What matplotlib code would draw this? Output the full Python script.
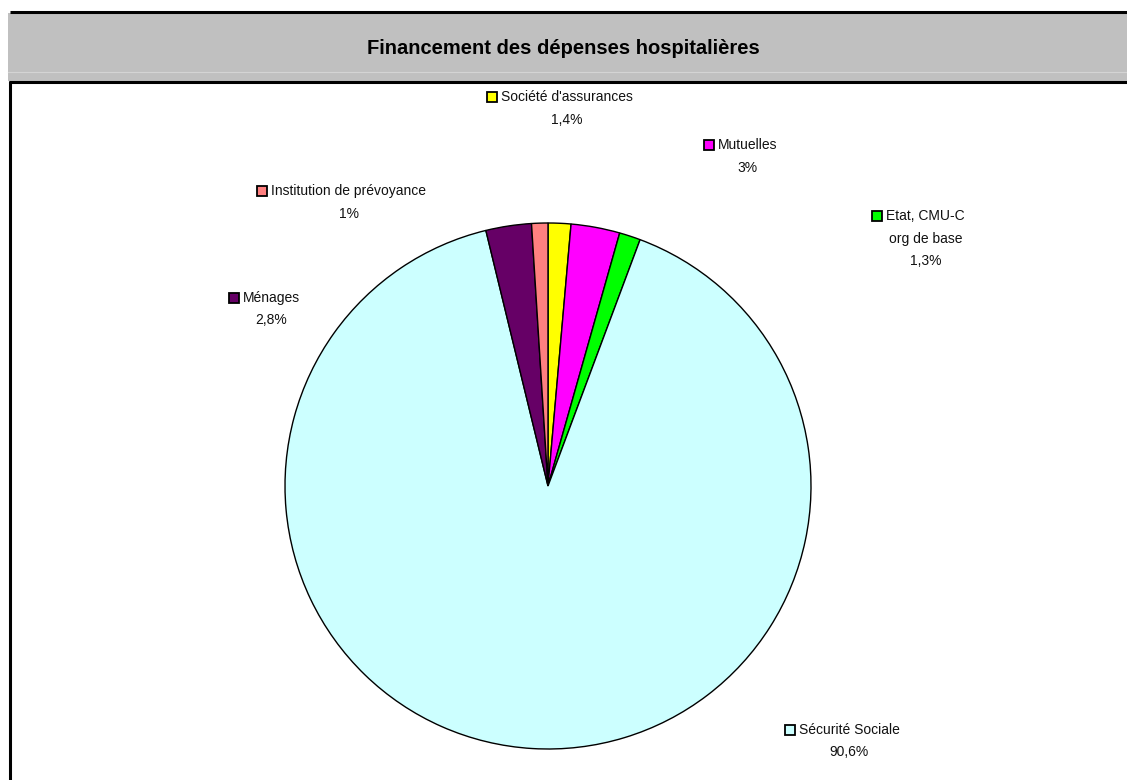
import matplotlib
matplotlib.use("Agg")
import matplotlib.pyplot as plt
from matplotlib.patches import Rectangle

# Slices in drawing order, clockwise from 12 o'clock
labels = ["Société d'assurances", "Mutuelles", "Etat, CMU-C\norg de base",
          "Sécurité Sociale", "Ménages", "Institution de prévoyance"]
shares = [1.4, 3.0, 1.3, 90.6, 2.8, 1.0]
pct_text = ["1,4%", "3%", "1,3%", "90,6%", "2,8%", "1%"]
colors = ["#FFFF00", "#FF00FF", "#00FF00", "#CCFFFF", "#660066", "#FF8080"]

W, H = 1127, 780
plt.rcParams["font.family"] = ["Liberation Sans", "DejaVu Sans"]

fig = plt.figure(figsize=(W / 100, H / 100), dpi=100)
ax = fig.add_axes([0, 0, 1, 1])


def py(y):
    # pixel row (from top) -> data y
    return H - y


# header band and frame
ax.add_patch(Rectangle((8, py(81)), W, 68, facecolor="#C0C0C0", edgecolor="none"))
ax.plot([8, W], [py(72), py(72)], color="#D4D4D4", lw=0.8)
ax.plot([10, W], [py(12), py(12)], color="black", lw=2.2, solid_capstyle="butt")
ax.plot([9, W], [py(81.5), py(81.5)], color="black", lw=2.2, solid_capstyle="butt")
ax.plot([10, 10], [py(81), 0], color="black", lw=2.2, solid_capstyle="butt")
ax.text(563, py(49), "Financement des dépenses hospitalières", ha="center", va="center",
        fontsize=14.5, fontweight="bold")

ax.pie(shares, colors=colors, startangle=90, counterclock=False,
       center=(548, py(486)), radius=263, frame=True,
       wedgeprops=dict(edgecolor="black", linewidth=1.0))
ax.set_xlim(0, W)
ax.set_ylim(0, H)
ax.set_aspect("equal")
ax.axis("off")

# label anchors: (x of key square, y of first line)
label_pos = [(492, 97), (709, 145), (877, 216), (790, 730), (234, 298), (262, 191)]
line_h = 22.5
fs = 10
for lab, pct, col, (x, y) in zip(labels, pct_text, colors, label_pos):
    lines = lab.split("\n")
    ax.add_patch(Rectangle((x - 5, py(y) - 5), 10, 10, facecolor=col,
                           edgecolor="black", lw=1.3))
    t = ax.text(x + 9, py(y), lines[0], ha="left", va="center", fontsize=fs,
                color="#111111")
    fig.canvas.draw()
    bb = t.get_window_extent()
    cx = (bb.x0 + bb.x1) / 2
    # remaining lines centred under the label text
    for i, extra in enumerate(lines[1:] + [pct]):
        ax.text(cx, py(y + line_h * (i + 1)), extra, ha="center", va="center",
                fontsize=fs, color="#111111")

fig.savefig("out.png", dpi=100)
